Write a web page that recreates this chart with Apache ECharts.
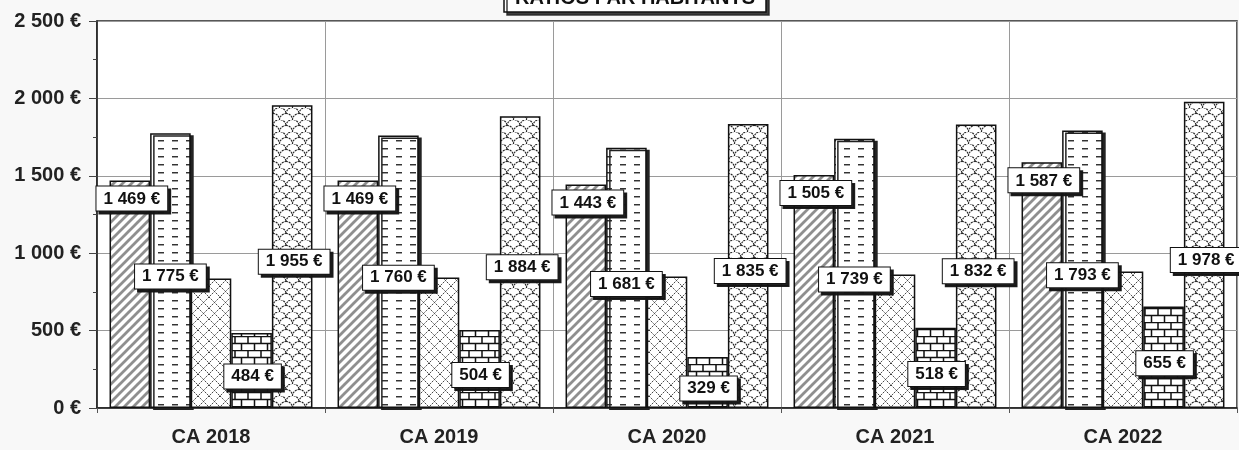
<!DOCTYPE html>
<html>
<head>
<meta charset="utf-8">
<script src="https://cdn.jsdelivr.net/npm/echarts@6/dist/echarts.min.js"></script>
<style>
html,body{margin:0;padding:0;background:#f8f8f8;}
#chart{width:1239px;height:450px;}
</style>
</head>
<body>
<div id="chart"></div>
<script>
const categories = ['CA 2018', 'CA 2019', 'CA 2020', 'CA 2021', 'CA 2022'];
const serie1 = [1469, 1469, 1443, 1505, 1587];
const serie2 = [1775, 1760, 1681, 1739, 1793];
const serie3 = [837, 843, 850, 863, 882];
const serie4 = [484, 504, 329, 518, 655];
const serie5 = [1955, 1884, 1835, 1832, 1978];
const yTicks = [0, 500, 1000, 1500, 2000, 2500];

function fmt(v) {
  return String(v).replace(/\B(?=(\d{3})+(?!\d))/g, ' ') + ' €';
}

function tile(w, h, draw) {
  const c = document.createElement('canvas');
  c.width = w; c.height = h;
  const ctx = c.getContext('2d');
  ctx.fillStyle = '#fff';
  ctx.fillRect(0, 0, w, h);
  draw(ctx, w, h);
  return { image: c, repeat: 'repeat' };
}

const patDiag = tile(9, 9, (ctx, w, h) => {
  ctx.strokeStyle = '#8f8f8f';
  ctx.lineWidth = 2.8;
  ctx.beginPath();
  ctx.moveTo(-1, h + 1); ctx.lineTo(w + 1, -1);
  ctx.moveTo(-2, 2); ctx.lineTo(2, -2);
  ctx.moveTo(w - 2, h + 2); ctx.lineTo(w + 2, h - 2);
  ctx.stroke();
});
const patDash = tile(14, 8, (ctx) => {
  ctx.fillStyle = '#333';
  ctx.fillRect(4, 4, 6, 1);
  ctx.fillStyle = 'rgba(40,40,40,0.45)';
  ctx.fillRect(4, 5, 6, 1);
});
const patCross = tile(11, 11, (ctx, w, h) => {
  ctx.strokeStyle = '#3a3a3a';
  ctx.lineWidth = 1;
  ctx.setLineDash([1.5, 1]);
  ctx.beginPath();
  ctx.moveTo(0, 0); ctx.lineTo(w, h);
  ctx.moveTo(w, 0); ctx.lineTo(0, h);
  ctx.stroke();
});
const patBrick = tile(13, 14, (ctx) => {
  ctx.strokeStyle = '#111';
  ctx.lineWidth = 1.5;
  ctx.beginPath();
  ctx.moveTo(0, 0.5); ctx.lineTo(13, 0.5);
  ctx.moveTo(0, 7.5); ctx.lineTo(13, 7.5);
  ctx.moveTo(1, 0); ctx.lineTo(1, 7.5);
  ctx.moveTo(7.5, 7.5); ctx.lineTo(7.5, 14);
  ctx.stroke();
});
const patScale = tile(13, 12, (ctx) => {
  ctx.strokeStyle = '#222';
  ctx.lineWidth = 1.1;
  ctx.setLineDash([2, 0.8]);
  ctx.beginPath();
  ctx.arc(6.5, 6, 6.5, Math.PI, 2 * Math.PI);
  ctx.stroke();
  ctx.beginPath();
  ctx.arc(0, 12, 6.5, 1.5 * Math.PI, 2 * Math.PI);
  ctx.stroke();
  ctx.beginPath();
  ctx.arc(13, 12, 6.5, Math.PI, 1.5 * Math.PI);
  ctx.stroke();
});

const FONT = "'Liberation Sans', Arial, sans-serif";

function labelStyle(position, offset, extra) {
  return Object.assign({
    show: true,
    position: position,
    offset: offset,
    formatter: (p) => fmt(p.value),
    fontFamily: FONT,
    fontSize: 17,
    fontWeight: 'bold',
    color: '#111',
    backgroundColor: '#fff',
    borderColor: '#111',
    borderWidth: 1,
    padding: [4, 7, 3, 7],
    shadowColor: 'rgba(20,20,20,0.95)',
    shadowBlur: 0,
    shadowOffsetX: 3,
    shadowOffsetY: 3
  }, extra || {});
}

const barItem = (pat, extra) => Object.assign({
  color: pat,
  borderColor: '#111',
  borderWidth: 1.5
}, extra || {});

const chart = echarts.init(document.getElementById('chart'));
chart.setOption({
  backgroundColor: '#f8f8f8',
  animation: false,
  title: {
    text: 'RATIOS PAR HABITANTS',
    left: 504,
    top: -16,
    padding: [4, 11, 4, 11],
    backgroundColor: '#fff',
    borderColor: '#111',
    borderWidth: 1.5,
    shadowColor: 'rgba(40,40,40,0.9)',
    shadowBlur: 0,
    shadowOffsetX: 3,
    shadowOffsetY: 3,
    textStyle: { fontFamily: FONT, fontSize: 20, fontWeight: 'bold', color: '#111' }
  },
  grid: {
    left: 97, right: 2, top: 21, bottom: 42,
    show: true,
    backgroundColor: '#fff',
    borderColor: '#222',
    borderWidth: 1.5
  },
  xAxis: {
    type: 'category',
    data: categories,
    axisLine: { lineStyle: { color: '#222', width: 1.5 } },
    axisTick: { show: true, length: 5, lineStyle: { color: '#555' } },
    splitLine: { show: true, lineStyle: { color: '#9a9a9a', width: 1 } },
    axisLabel: { margin: 19, fontFamily: FONT, fontSize: 20, fontWeight: 'bold', color: '#222' }
  },
  yAxis: {
    type: 'value',
    min: yTicks[0],
    max: yTicks[yTicks.length - 1],
    interval: 500,
    axisLine: { show: true, lineStyle: { color: '#222', width: 1.5 } },
    axisTick: { show: true, length: 8, lineStyle: { color: '#444' } },
    minorTick: { show: true, splitNumber: 2, length: 4, lineStyle: { color: '#444' } },
    splitLine: { show: true, lineStyle: { color: '#9a9a9a', width: 1 } },
    axisLabel: {
      margin: 16,
      formatter: (v) => fmt(v),
      fontFamily: FONT, fontSize: 20, fontWeight: 'bold', color: '#222'
    }
  },
  series: [
    { name: 'Série 1', type: 'bar', data: serie1, barGap: '0%', barCategoryGap: '11%',
      itemStyle: barItem(patDiag),
      label: labelStyle('insideTop', [2, 0], { distance: 6 }) },
    { name: 'Série 2', type: 'bar', data: serie2,
      itemStyle: barItem(patDash, { shadowColor: '#222', shadowBlur: 0, shadowOffsetX: 3, shadowOffsetY: 2 }),
      label: labelStyle('inside', [0, 6]) },
    { name: 'Série 3', type: 'bar', data: serie3,
      itemStyle: barItem(patCross),
      label: { show: false } },
    { name: 'Série 4', type: 'bar', data: serie4,
      itemStyle: barItem(patBrick),
      label: labelStyle('inside', [1, 6]) },
    { name: 'Série 5', type: 'bar', data: serie5,
      itemStyle: barItem(patScale),
      label: labelStyle('inside', [2, 5]) }
  ]
});
</script>
</body>
</html>
